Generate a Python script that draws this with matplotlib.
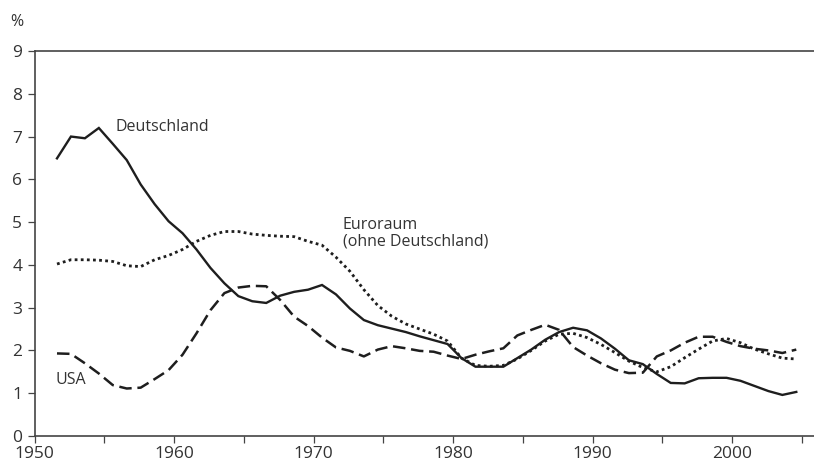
import matplotlib
matplotlib.use("Agg")
import matplotlib.pyplot as plt
import numpy as np

plt.rcParams['font.family'] = ['Open Sans', 'DejaVu Sans']

years = np.arange(1951.6, 2005.0, 1.0)

deutschland = [6.49, 7.00, 6.96, 7.20, 6.83, 6.45, 5.88, 5.42, 5.02, 4.74,
               4.36, 3.93, 3.57, 3.27, 3.15, 3.11, 3.28, 3.37, 3.42, 3.53,
               3.31, 2.98, 2.71, 2.59, 2.51, 2.43, 2.33, 2.24, 2.15, 1.82,
               1.62, 1.62, 1.62, 1.82, 2.02, 2.25, 2.43, 2.53, 2.47, 2.28,
               2.04, 1.77, 1.68, 1.45, 1.24, 1.23, 1.35, 1.36, 1.36, 1.29,
               1.17, 1.05, 0.96, 1.03]

euroraum = [4.02, 4.12, 4.12, 4.11, 4.08, 3.98, 3.96, 4.12, 4.22, 4.36,
            4.55, 4.69, 4.78, 4.78, 4.72, 4.69, 4.67, 4.66, 4.55, 4.46,
            4.18, 3.85, 3.42, 3.05, 2.80, 2.62, 2.50, 2.38, 2.22, 1.82,
            1.65, 1.63, 1.65, 1.80, 2.00, 2.22, 2.38, 2.40, 2.30, 2.14,
            1.95, 1.75, 1.60, 1.50, 1.62, 1.83, 2.03, 2.22, 2.28, 2.18,
            2.03, 1.92, 1.82, 1.80]

usa = [1.93, 1.92, 1.70, 1.46, 1.19, 1.11, 1.13, 1.33, 1.54, 1.90,
       2.40, 2.94, 3.34, 3.47, 3.51, 3.50, 3.18, 2.79, 2.57, 2.30,
       2.07, 1.99, 1.86, 2.02, 2.10, 2.05, 1.99, 1.97, 1.88, 1.80,
       1.90, 1.98, 2.05, 2.35, 2.48, 2.60, 2.48, 2.08, 1.88, 1.70,
       1.55, 1.47, 1.48, 1.86, 2.00, 2.18, 2.32, 2.32, 2.20, 2.10,
       2.04, 2.00, 1.94, 2.02]

x_ticks = [1950, 1955, 1960, 1965, 1970, 1975, 1980, 1985, 1990, 1995, 2000, 2005]
x_labels = ['1950', '', '1960', '', '1970', '', '1980', '', '1990', '', '2000', '']
y_ticks = list(range(0, 10))

line_col = '#1e1e1e'
text_col = '#333333'
axis_col = '#444444'

fig = plt.figure(figsize=(8.14, 4.67), dpi=100)
ax = fig.add_axes([0.0426, 0.0664, 0.9574, 0.8244])

ax.plot(years, deutschland, color=line_col, lw=1.7, solid_joinstyle='miter')
ax.plot(years, euroraum, color=line_col, lw=2.0, linestyle=(0, (1, 1.2)))
ax.plot(years, usa, color=line_col, lw=1.8, linestyle=(0, (5.0, 2.3)))

ax.set_xlim(1950, 2005.87)
ax.set_ylim(0, 9)
ax.set_xticks(x_ticks)
ax.set_xticklabels(x_labels)
ax.set_yticks(y_ticks)

for s in ['left', 'bottom', 'top']:
    ax.spines[s].set_color(axis_col)
    ax.spines[s].set_linewidth(1.2)
ax.spines['right'].set_visible(False)

ax.tick_params(axis='both', direction='out', length=5, width=0.9,
               color=axis_col, labelcolor=text_col, labelsize=12.5)
ax.tick_params(axis='x', pad=2.5)
ax.tick_params(axis='y', pad=4)

ax.text(1955.8, 7.22, 'Deutschland', fontsize=11.5, color=text_col,
        va='center', ha='left')
ax.text(1972.1, 4.74, 'Euroraum\n(ohne Deutschland)', fontsize=11.5,
        color=text_col, va='center', ha='left', linespacing=1.0)
ax.text(1951.5, 1.31, 'USA', fontsize=11.5, color=text_col,
        va='center', ha='left')

fig.text(10 / 814, 1 - 22 / 467, '%', fontsize=11.5, color=text_col,
         va='center', ha='left')

fig.savefig('out.png', dpi=100)
